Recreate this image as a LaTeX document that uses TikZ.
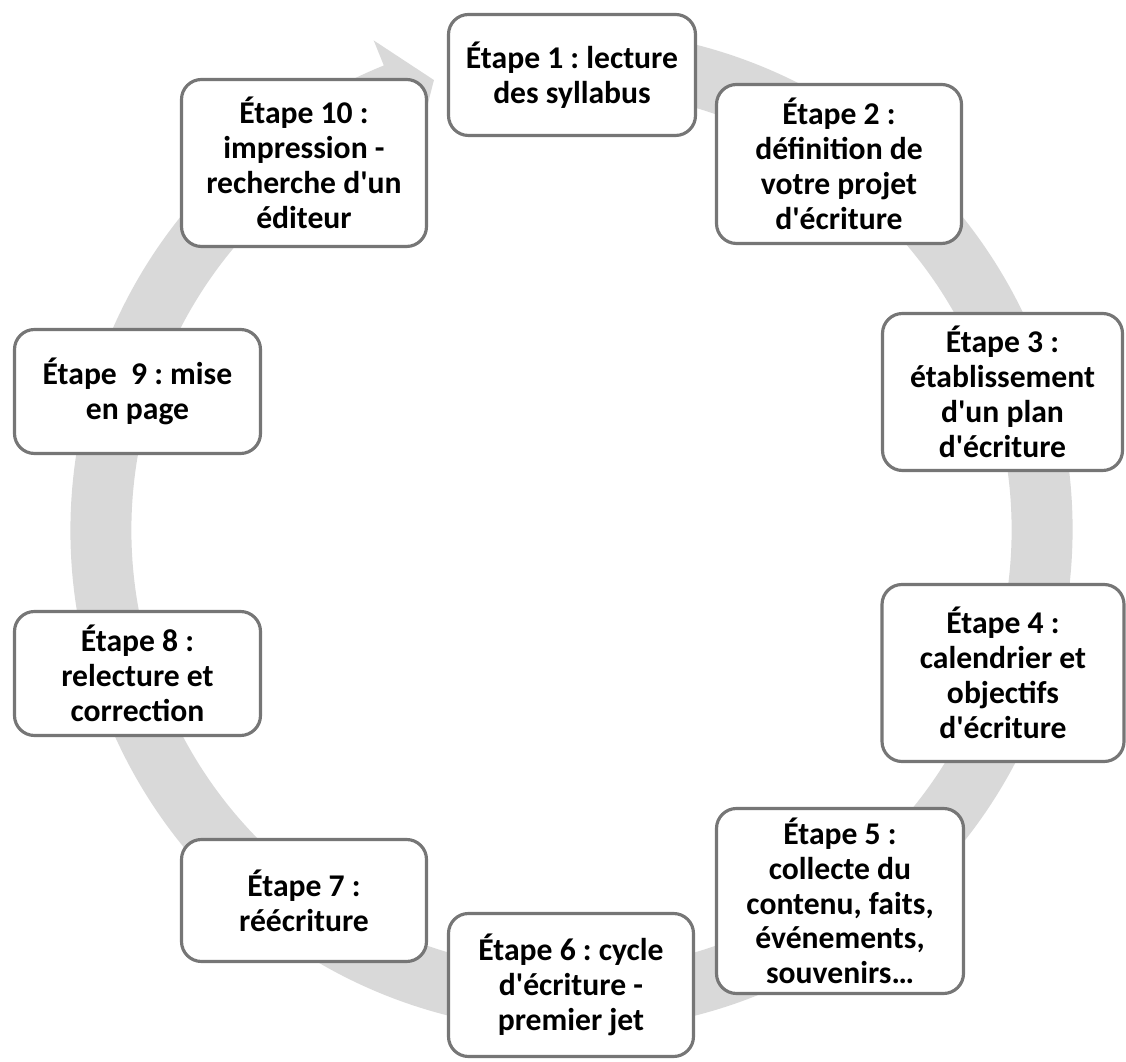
\documentclass[tikz,border=0pt]{standalone}
\usepackage{fontspec}
\setmainfont{Carlito}[Ligatures=TeXOff]
\frenchspacing
\usepackage{tikz}
\usetikzlibrary{calc}
\definecolor{boxgray}{RGB}{118,118,118}
\definecolor{ringgray}{RGB}{217,217,217}
\begin{document}
\begin{tikzpicture}[etape/.style={rectangle,rounded corners=0.4cm,draw=boxgray,line width=1.8pt,fill=white,align=center,inner sep=0pt,font=\fontsize{18}{19.8}\selectfont\bfseries}]

	\useasboundingbox (0,0) rectangle (22.52,21.22);

	% the grey cycle arrow
	\begin{scope}[shift={(11.43,10.62)}]
	\fill [ringgray] (80:10.02) arc (80:-248:10.02) -- (112:10.56) -- (107:9.41) -- (112:8.26) -- (112:8.80) arc (-248:80:8.80) -- cycle;
	\end{scope}

	\node (E1) [etape, minimum width=4.94cm, minimum height=2.42cm] at (11.44,19.72) {Étape 1 : lecture\\des syllabus};
	\node (E2) [etape, minimum width=4.9cm, minimum height=3.18cm] at (16.78,17.94) {Étape 2 :\\définition de\\votre projet\\d'écriture};
	\node (E3) [etape, minimum width=4.8cm, minimum height=3.14cm] at (20.05,13.38) {Étape 3 :\\établissement\\d'un plan\\d'écriture};
	\node (E4) [etape, minimum width=4.84cm, minimum height=3.54cm] at (20.06,7.76) {Étape 4 :\\calendrier et\\objectifs\\d'écriture};
	\node (E5) [etape, minimum width=4.94cm, minimum height=3.7cm] at (16.80,3.20) {Étape 5 :\\collecte du\\contenu, faits,\\événements,\\souvenirs…};
	\node (E6) [etape, minimum width=4.9cm, minimum height=2.86cm] at (11.42,1.52) {Étape 6 : cycle\\d'écriture -\\premier jet};
	\node (E7) [etape, minimum width=4.9cm, minimum height=2.44cm] at (6.08,3.21) {Étape 7 :\\réécriture};
	\node (E8) [etape, minimum width=4.92cm, minimum height=2.48cm] at (2.75,7.75) {Étape 8 :\\relecture et\\correction};
	\node (E9) [etape, minimum width=4.92cm, minimum height=2.48cm] at (2.75,13.39) {Étape\ \ 9 : mise\\en page};
	\node (E10) [etape, minimum width=4.9cm, minimum height=3.34cm] at (6.08,17.96) {Étape 10 :\\impression -\\recherche d'un\\éditeur};

\end{tikzpicture}
\end{document}
